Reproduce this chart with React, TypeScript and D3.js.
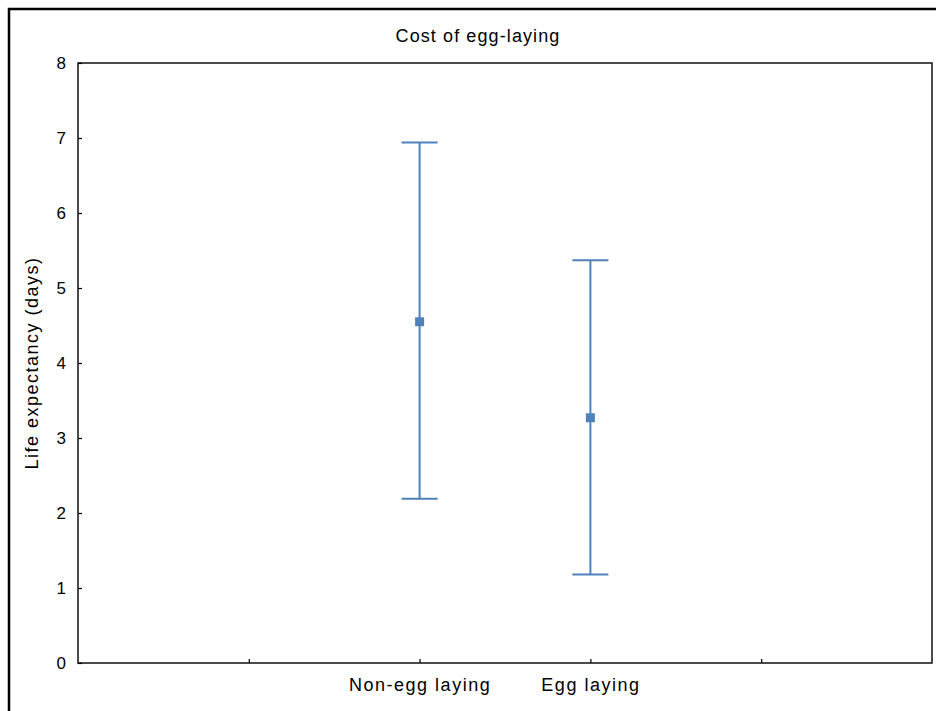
import * as d3 from 'd3'
import { useEffect, useRef } from 'react'

const groups = ['Non-egg laying', 'Egg laying']
const means = [4.55, 3.27]
const upper = [6.94, 5.37]
const lower = [2.19, 1.18]
const yTicks = [0, 1, 2, 3, 4, 5, 6, 7, 8]
// the axis has two empty slots either side of the groups
const slots = ['', ...groups, ' ']

const blue = '#4F81BD'
const font = "'Liberation Sans', Arial, sans-serif"

function App() {
    const ref = useRef<SVGSVGElement>(null)

    useEffect(() => {
        document.body.style.margin = '0'
        const svg = d3.select(ref.current)
        svg.selectAll('*').remove()

        const left = 78
        const right = 932
        const top = 63
        const bottom = 663

        const x = d3.scalePoint().domain(slots).range([left, right]).padding(1)
        const y = d3.scaleLinear().domain([0, 8]).range([bottom, top])

        svg.append('rect')
            .attr('width', 936)
            .attr('height', 711)
            .attr('fill', '#fff')

        // outer frame, cut off at right and bottom
        svg.append('rect')
            .attr('x', 9)
            .attr('y', 9)
            .attr('width', 1000)
            .attr('height', 1000)
            .attr('fill', 'none')
            .attr('stroke', '#000')
            .attr('stroke-width', 2.5)

        svg.append('text')
            .attr('x', 478)
            .attr('y', 42)
            .attr('text-anchor', 'middle')
            .attr('font-family', font)
            .attr('font-size', 18)
            .style('letter-spacing', '1.1px')
            .text('Cost of egg-laying')

        // plot box
        svg.append('rect')
            .attr('x', left)
            .attr('y', top)
            .attr('width', right - left)
            .attr('height', bottom - top)
            .attr('fill', 'none')
            .attr('stroke', '#111')
            .attr('stroke-width', 1.5)

        const axisY = d3.axisLeft(y).tickValues(yTicks).tickSize(-4).tickPadding(12)
        const gy = svg.append('g').attr('transform', `translate(${left},0)`).call(axisY)
        gy.select('.domain').remove()
        gy.selectAll('.tick line').attr('stroke', '#000').attr('stroke-width', 1.2)
        gy.selectAll('.tick text')
            .attr('font-family', font)
            .attr('font-size', 17)
            .attr('fill', '#000')

        const axisX = d3.axisBottom(x).tickSize(-4).tickPadding(11)
        const gx = svg.append('g').attr('transform', `translate(0,${bottom})`).call(axisX)
        gx.select('.domain').remove()
        gx.selectAll('.tick line').attr('stroke', '#000').attr('stroke-width', 1.2)
        gx.selectAll('.tick text')
            .attr('font-family', font)
            .attr('font-size', 18)
            .attr('fill', '#000')
            .attr('dy', '0.95em')
            .style('letter-spacing', '1.5px')

        svg.append('text')
            .attr('transform', `translate(38,${(top + bottom) / 2}) rotate(-90)`)
            .attr('text-anchor', 'middle')
            .attr('font-family', font)
            .attr('font-size', 18)
            .style('letter-spacing', '1.5px')
            .text('Life expectancy (days)')

        const bars = svg.append('g')
        groups.forEach((g, i) => {
            const cx = x(g) as number
            bars.append('line')
                .attr('x1', cx).attr('x2', cx)
                .attr('y1', y(upper[i])).attr('y2', y(lower[i]))
                .attr('stroke', blue).attr('stroke-width', 2)
            ;[upper[i], lower[i]].forEach((v) => {
                bars.append('line')
                    .attr('x1', cx - 18).attr('x2', cx + 18)
                    .attr('y1', y(v)).attr('y2', y(v))
                    .attr('stroke', blue).attr('stroke-width', 2)
            })
            bars.append('rect')
                .attr('x', cx - 4.5)
                .attr('y', y(means[i]) - 4.5)
                .attr('width', 9)
                .attr('height', 9)
                .attr('fill', blue)
        })
    }, [])

    return <svg ref={ref} width={936} height={711} style={{ display: 'block' }} />
}

export default App
